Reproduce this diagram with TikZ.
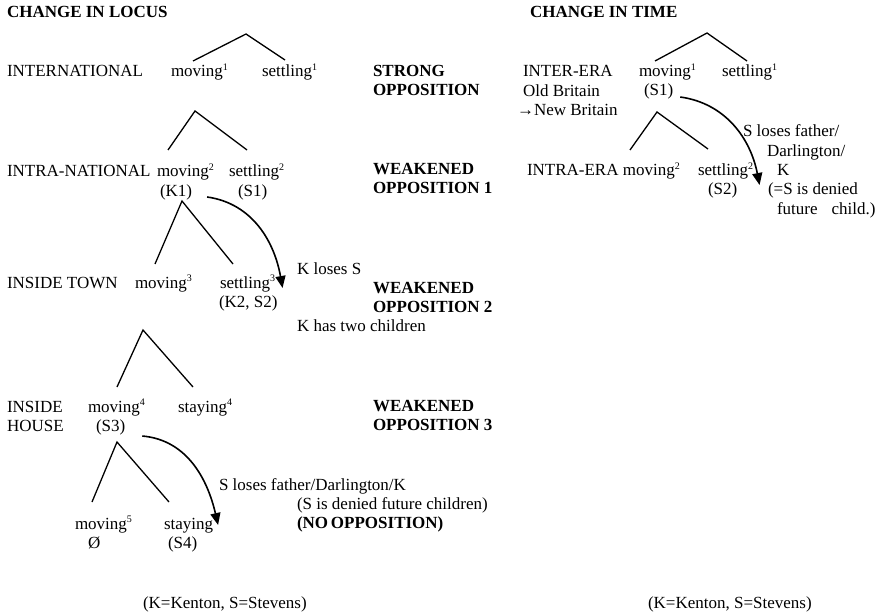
\documentclass[tikz,border=0pt]{standalone}
\usepackage{fontspec}
\setmainfont{Liberation Serif}
\usepackage{tikz}
\usetikzlibrary{positioning, arrows.meta}
\newcommand{\lvl}[1]{\textsuperscript{\fontsize{10bp}{10bp}\selectfont #1}}
\tikzstyle{word} = [
    inner sep=0pt,
    outer sep=0pt,
    anchor=base west,
    text height=12bp,
    text depth=4bp,
    font=\fontsize{17bp}{19.5bp}\selectfont
]
\tikzstyle{heading} = [
    word,
    font=\fontsize{17bp}{19.5bp}\selectfont\bfseries
]
\tikzstyle{branch} = [line width=1.3bp]
\tikzstyle{arrow} = [line width=1.6bp,->,>={Triangle[length=12bp,width=10bp]}]

\begin{document}
\begin{tikzpicture}[x=1bp, y=-1bp]
\useasboundingbox (0,0) rectangle (882,614);

% change in locus
\node (locus) [heading] at (7,18) {CHANGE IN LOCUS};

\node (intl) [word] at (7,77) {INTERNATIONAL};
\node (mov1) [word] at (171,77) {moving\lvl{1}};
\node (set1) [word] at (262,77) {settling\lvl{1}};
\node (strong) [heading] at (373,77) {STRONG};
\node (opp0) [heading, below=3bp of strong.south west, anchor=north west] {OPPOSITION};

\node (intra) [word] at (7,177) {INTRA-NATIONAL};
\node (mov2) [word] at (157,177) {moving\lvl{2}};
\node (set2) [word] at (229,177) {settling\lvl{2}};
\node (k1) [word] at (160,197) {(K1)};
\node (s1) [word] at (238,197) {(S1)};
\node (weak1) [heading] at (373,175) {WEAKENED};
\node (opp1) [heading, below=3bp of weak1.south west, anchor=north west] {OPPOSITION 1};

\node (lossK) [word] at (297,274) {K loses S};
\node (town) [word] at (7,288) {INSIDE TOWN};
\node (mov3) [word] at (135,288) {moving\lvl{3}};
\node (set3) [word] at (220,288) {settling\lvl{3}};
\node (k2s2) [word] at (219,307) {(K2, S2)};
\node (weak2) [heading] at (373,293) {WEAKENED};
\node (opp2) [heading, below=3bp of weak2.south west, anchor=north west] {OPPOSITION 2};
\node (kids) [word] at (297,331) {K has two children};

\node (inside) [word] at (7,412) {INSIDE};
\node (house) [word, below=3bp of inside.south west, anchor=north west] {HOUSE};
\node (mov4) [word] at (88,412) {moving\lvl{4}};
\node (stay4) [word] at (178,412) {staying\lvl{4}};
\node (s3) [word] at (96,431) {(S3)};
\node (weak3) [heading] at (373,411) {WEAKENED};
\node (opp3) [heading, below=3bp of weak3.south west, anchor=north west] {OPPOSITION 3};

\node (lossS) [word] at (219,490) {S loses father/Darlington/K};
\node (denied) [word] at (297,509) {(S is denied future children)};
\node (noopp) [heading] at (297,528) {(NO\,OPPOSITION)};
\node (mov5) [word] at (75,529) {moving\lvl{5}};
\node (stay5) [word] at (164,529) {staying};
\node (none) [word] at (88,548) {Ø};
\node (s4) [word] at (168,548) {(S4)};

\node (keyL) [word] at (143,608) {(K=Kenton, S=Stevens)};

% change in time
\node (time) [heading] at (530,18) {CHANGE IN TIME};

\node (inter) [word] at (523,77) {INTER-ERA};
\node (old) [word, below=3.5bp of inter.south west, anchor=north west] {Old Britain};
\node (new) [word, below=3.5bp of old.south west, anchor=north west, xshift=-6bp] {→New Britain};
\node (mov1r) [word] at (639,77) {moving\lvl{1}};
\node (set1r) [word] at (722,77) {settling\lvl{1}};
\node (s1r) [word] at (644,96) {(S1)};

\node (intraera) [word] at (527,176) {INTRA-ERA moving\lvl{2}};
\node (set2r) [word] at (698,176) {settling\lvl{2}};
\node (s2r) [word] at (708,195) {(S2)};

\node (note1) [word] at (743,137) {S loses father/};
\node (note2) [word] at (767,157) {Darlington/};
\node (note3) [word] at (777,176) {K};
\node (note4) [word] at (768,195) {(=S is denied};
\node (note5) [word] at (777,215) {future\hspace{14bp}child.)};

\node (keyR) [word] at (648,608) {(K=Kenton, S=Stevens)};

% tree branches
\coordinate (t1) at (246,34);
\coordinate (t1l) at (193,61);
\coordinate (t1r) at (285,60);
\coordinate (t2) at (195,111);
\coordinate (t2l) at (168,150);
\coordinate (t2r) at (247,150);
\coordinate (t3) at (182,201);
\coordinate (t3l) at (155,264);
\coordinate (t3r) at (233,264);
\coordinate (t4) at (143,330);
\coordinate (t4l) at (117,387);
\coordinate (t4r) at (193,387);
\coordinate (t5) at (117,442);
\coordinate (t5l) at (92,502);
\coordinate (t5r) at (169,502);
\coordinate (r1) at (707,33);
\coordinate (r1l) at (655,61);
\coordinate (r1r) at (747,61);
\coordinate (r2) at (657,112);
\coordinate (r2l) at (630,150);
\coordinate (r2r) at (708,149);

\draw [branch] (t1l) -- (t1) -- (t1r);
\draw [branch] (t2l) -- (t2) -- (t2r);
\draw [branch] (t3l) -- (t3) -- (t3r);
\draw [branch] (t4l) -- (t4) -- (t4r);
\draw [branch] (t5l) -- (t5) -- (t5r);
\draw [branch] (r1l) -- (r1) -- (r1r);
\draw [branch] (r2l) -- (r2) -- (r2r);

% losses
\draw [arrow] ([xshift=15bp,yshift=-4bp]k1.east) to [out=-8, in=100] ([xshift=7bp,yshift=-4bp]set3.east);
\draw [arrow] ([xshift=17bp,yshift=-9bp]s3.east) to [out=-5, in=103] ([xshift=5bp]stay5.east);
\draw [arrow] ([xshift=7bp,yshift=-5bp]s1r.east) to [out=-8, in=101] ([xshift=6bp,yshift=-13bp]set2r.east);

\end{tikzpicture}
\end{document}
